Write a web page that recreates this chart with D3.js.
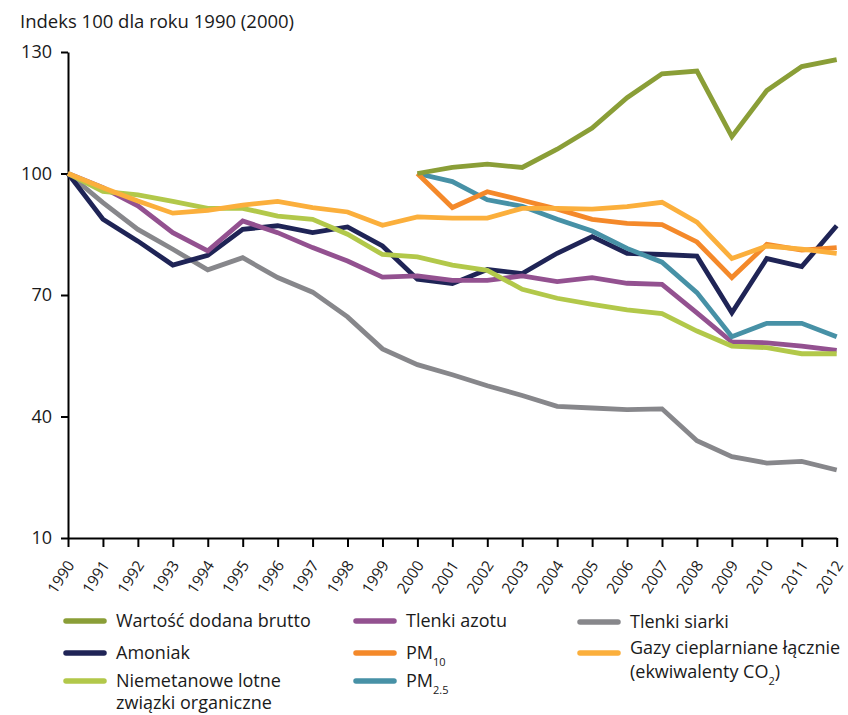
<!DOCTYPE html>
<html>
<head>
<meta charset="utf-8">
<script src="https://cdn.jsdelivr.net/npm/d3@7"></script>
<style>
  body { margin: 0; background: #fff; }
  svg { display: block; font-family: "Open Sans", sans-serif; }
</style>
</head>
<body>
<svg id="chart" width="848" height="715"></svg>
<script>
const years = d3.range(1990, 2013);
const yTicks = [10, 40, 70, 100, 130];
const title = "Indeks 100 dla roku 1990 (2000)";

const gva    = [null,null,null,null,null,null,null,null,null,null,100,101.5,102.3,101.5,106.0,111.2,118.7,124.6,125.3,109.1,120.5,126.4,128.1];
const nh3    = [100,88.7,83.3,77.4,79.8,86.2,87.1,85.4,86.8,82.1,73.9,72.8,76.3,75.3,80.3,84.4,80.3,80.0,79.6,65.6,79.0,77.0,87.1];
const nmvoc  = [100,95.6,94.7,93.1,91.4,91.4,89.5,88.7,85.0,80.0,79.4,77.4,76.1,71.4,69.2,67.7,66.3,65.4,61.1,57.4,57.0,55.5,55.5];
const nox    = [100,96.5,92.0,85.4,80.9,88.3,85.4,81.7,78.4,74.4,74.7,73.6,73.6,74.7,73.3,74.3,72.9,72.6,65.6,58.4,58.2,57.4,56.3];
const pm10   = [null,null,null,null,null,null,null,null,null,null,100,91.6,95.5,93.4,91.2,88.7,87.7,87.4,83.1,74.3,82.5,81.1,81.7];
const pm25   = [null,null,null,null,null,null,null,null,null,null,100,98.0,93.5,91.9,88.7,85.8,81.5,78.1,70.6,59.7,63.0,63.0,59.7];
const sox    = [100,92.8,86.2,81.3,76.2,79.2,74.3,70.7,64.6,56.7,52.8,50.3,47.6,45.2,42.5,42.1,41.7,41.9,34.0,30.1,28.5,28.9,26.8];
const ghg    = [100,96.5,93.2,90.2,90.9,92.2,93.1,91.6,90.5,87.2,89.3,89.0,89.0,91.4,91.4,91.2,91.8,92.9,88.0,79.0,82.1,81.3,80.3];

const colors = {
  gva: "#8a9e37", nh3: "#1f2456", nmvoc: "#b2c84a", nox: "#935190",
  pm10: "#f4892a", pm25: "#4791a6", sox: "#87878b", ghg: "#fbaf3c"
};

const svg = d3.select("#chart");
const x = d3.scaleLinear().domain([1990, 2012]).range([68, 836.7]);
const y = d3.scaleLinear().domain([10, 130]).range([538, 52]);
const textColor = "#1a1a1a";

// title
svg.append("text").attr("x", 20).attr("y", 28)
  .attr("font-size", 18.5).attr("fill", textColor).text(title);

// y axis
const yAxis = svg.append("g").attr("transform", "translate(68,0)")
  .call(d3.axisLeft(y).tickValues(yTicks).tickSize(7).tickSizeOuter(0).tickPadding(9));
yAxis.attr("font-size", 18).attr("font-family", "'Open Sans', sans-serif");
yAxis.select(".domain").attr("stroke", "#000").attr("stroke-width", 2);
yAxis.selectAll(".tick line").attr("stroke", "#000").attr("stroke-width", 2);
yAxis.selectAll(".tick text").attr("font-size", 18).attr("fill", textColor);

// x axis
const xAxis = svg.append("g").attr("transform", "translate(0,538)")
  .call(d3.axisBottom(x).tickValues(years).tickFormat(d3.format("d")).tickSize(9).tickSizeOuter(0));
xAxis.attr("font-size", 15.5).attr("font-family", "'Open Sans', sans-serif");
xAxis.select(".domain").attr("stroke", "#000").attr("stroke-width", 2);
xAxis.selectAll(".tick line").attr("stroke", "#000").attr("stroke-width", 2);
xAxis.selectAll(".tick text")
  .attr("font-size", 15.5).attr("fill", textColor)
  .attr("text-anchor", "end")
  .attr("transform", "translate(2,24) rotate(-57)")
  .attr("x", 0).attr("y", 0).attr("dy", "0.35em");

// lines
const line = d3.line()
  .defined(d => d.v !== null)
  .x(d => x(d.year)).y(d => y(d.v));

const order = [
  ["sox", sox], ["nh3", nh3], ["nox", nox], ["nmvoc", nmvoc],
  ["pm25", pm25], ["pm10", pm10], ["ghg", ghg], ["gva", gva]
];
order.forEach(([key, arr]) => {
  const data = years.map((yr, i) => ({year: yr, v: arr[i]}));
  svg.append("path").datum(data)
    .attr("fill", "none").attr("stroke", colors[key])
    .attr("stroke-width", 4.8).attr("stroke-linejoin", "miter")
    .attr("d", line);
});

// legend
const legendItems = [
  {key: "gva", lx: 66, ly: 621, lines: [["Wartość dodana brutto"]]},
  {key: "nh3", lx: 66, ly: 653, lines: [["Amoniak"]]},
  {key: "nmvoc", lx: 66, ly: 681, lines: [["Niemetanowe lotne"], ["związki organiczne"]], gap: 22},
  {key: "nox", lx: 356, ly: 621, lines: [["Tlenki azotu"]]},
  {key: "pm10", lx: 356, ly: 653, lines: [["PM", "10"]]},
  {key: "pm25", lx: 356, ly: 681, lines: [["PM", "2.5"]]},
  {key: "sox", lx: 580, ly: 622, lines: [["Tlenki siarki"]]},
  {key: "ghg", lx: 580, ly: 653, textY: 648, gap: 24, lines: [["Gazy cieplarniane łącznie"], ["(ekwiwalenty CO", "2", ")"]]}
];
legendItems.forEach(it => {
  svg.append("line")
    .attr("x1", it.lx).attr("x2", it.lx + 38)
    .attr("y1", it.ly).attr("y2", it.ly)
    .attr("stroke", colors[it.key]).attr("stroke-width", 5.5)
    .attr("stroke-linecap", "round");
  const ty = (it.textY !== undefined ? it.textY : it.ly);
  it.lines.forEach((parts, li) => {
    const t = svg.append("text")
      .attr("x", it.lx + 50).attr("y", ty + li * (it.gap || 24))
      .attr("dy", "0.35em")
      .attr("font-size", 18).attr("fill", textColor);
    t.append("tspan").text(parts[0]);
    if (parts.length > 1) {
      t.append("tspan").attr("font-size", 11).attr("dy", 7).text(parts[1]);
    }
    if (parts.length > 2) {
      t.append("tspan").attr("dy", -7).text(parts[2]);
    }
  });
});
</script>
</body>
</html>
